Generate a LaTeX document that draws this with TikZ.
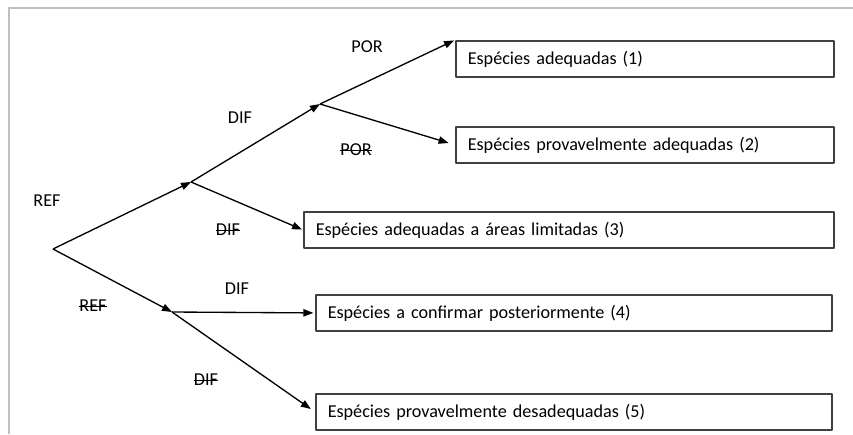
\documentclass[tikz,border=0pt]{standalone}
\usepackage{fontspec}
\setmainfont[WordSpace=0.7]{Carlito}
\usetikzlibrary{arrows.meta}
\tikzset{
  caixa/.style={draw=black!75,line width=0.45mm,anchor=north west,minimum height=10.9mm,
    inner xsep=3.6mm,align=left,font=\fontsize{15.5}{18}\selectfont},
  rotulo/.style={font=\fontsize{15.5}{18}\selectfont,inner sep=0pt},
  riscado/.style={rotulo,append after command={(\tikzlastnode.west) edge[line width=0.3mm] (\tikzlastnode.east)}},
  seta/.style={->,line width=0.4mm}
}
\begin{document}
\begin{tikzpicture}[>={Triangle[length=3mm,width=2.2mm]},line join=round,x=0.3mm,y=-0.3mm]
  \useasboundingbox (0,0) rectangle (853,434);
  % moldura
  \draw[black!25,line width=0.6mm] (853,7.5)--(8.5,7.5)--(8.5,434);
  % pontos de ramificacao
  \path
  (53,249) coordinate (R)
  (191,182) coordinate (A)
  (320,104) coordinate (B)
  (172,312) coordinate (C);
  % caixas
  \node[caixa,text width=106.2mm] (c1) at (455,40) {Espécies adequadas (1)};
  \node[caixa,text width=106.2mm] (c2) at (455,126) {Espécies provavelmente adequadas (2)};
  \node[caixa,text width=151.8mm] (c3) at (303,211) {Espécies adequadas a áreas limitadas (3)};
  \node[caixa,text width=147.6mm] (c4) at (315,294) {Espécies a confirmar posteriormente (4)};
  \node[caixa,text width=147.6mm] (c5) at (315,393) {Espécies provavelmente desadequadas (5)};
  % ramos
  \draw[seta] (R)--(A);
  \draw[seta] (R)--(C);
  \draw[seta] (A)--(B);
  \draw[seta,shorten >=0.3mm] (B)--(c1.north west);
  \draw[seta,shorten >=2mm] (B)--(c2.west);
  \draw[seta,shorten >=0.3mm] (A)--(c3.west);
  \draw[seta,shorten >=0.5mm] (C)--(c4.west);
  \draw[seta,shorten >=1.5mm] (C)--(c5.west);
  % rotulos
  \node[rotulo] (l1) at (367,47) {POR};
  \node[riscado] (l2) at (356,150) {POR};
  \node[rotulo] (l3) at (240,118) {DIF};
  \node[riscado] (l4) at (228,230) {DIF};
  \node[rotulo] (l5) at (47,201) {REF};
  \node[riscado] (l6) at (93,306) {REF};
  \node[rotulo] (l7) at (237,289) {DIF};
  \node[riscado] (l8) at (206,380) {DIF};
\end{tikzpicture}
\end{document}
